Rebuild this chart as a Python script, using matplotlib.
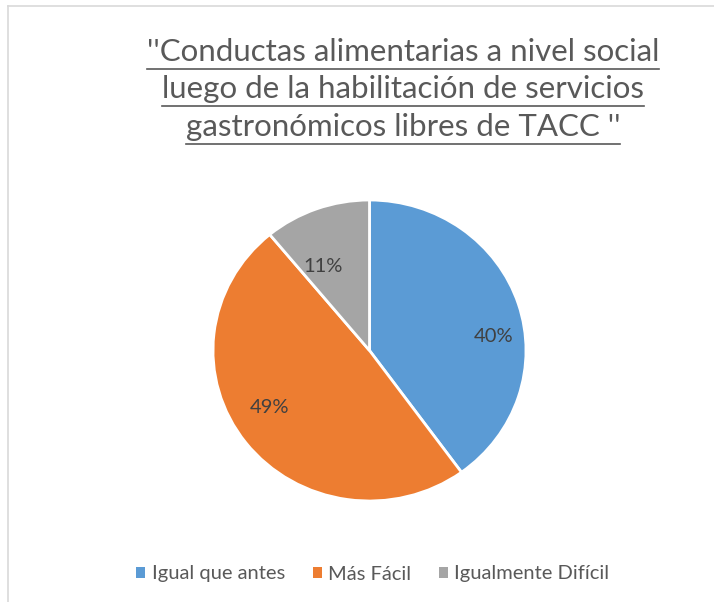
import matplotlib
matplotlib.use('Agg')
import matplotlib.pyplot as plt
from matplotlib.lines import Line2D
from matplotlib.patches import Patch

categorias = ['Igual que antes', 'Más Fácil', 'Igualmente Difícil']
porcentajes = [40, 49, 11]
colores = ['#5B9BD5', '#ED7D31', '#A5A5A5']
titulo = ["''Conductas alimentarias a nivel social",
          'luego de la habilitación de servicios',
          "gastronómicos libres de TACC ''"]

# posiciones de las etiquetas (en radios del pastel), estilo "ajuste perfecto" de Excel
pos_etiquetas = [(0.79, 0.09), (-0.64, -0.38), (-0.30, 0.56)]

plt.rcParams['font.family'] = ['Lato', 'DejaVu Sans']

W, H = 714, 602
fig = plt.figure(figsize=(W / 100, H / 100), dpi=100)

# marco gris del gráfico
fig.add_artist(Line2D([8 / W, 8 / W], [0, 1 - 6 / H], color='#D9D9D9', lw=1.2))
fig.add_artist(Line2D([8 / W, 1], [1 - 6 / H, 1 - 6 / H], color='#D9D9D9', lw=1.2))

# la captura está algo estirada en horizontal
cx, cy, rx, ry = 369.5, 350.5, 156.5, 150.5
ax = fig.add_axes([(cx - rx) / W, (H - cy - ry) / H, 2 * rx / W, 2 * ry / H])
ax.pie(porcentajes, colors=colores, startangle=90, counterclock=False,
       wedgeprops=dict(edgecolor='white', linewidth=2))
ax.set_xlim(-1.0, 1.0)
ax.set_ylim(-1.0, 1.0)
ax.set_aspect('auto')
ax.axis('off')

for (x, y), v in zip(pos_etiquetas, porcentajes):
    ax.text(x, y, '{}%'.format(v), ha='center', va='center',
            fontsize=14.5, color='#404040')

# titulo subrayado
textos = []
for linea, base in zip(titulo, [61, 98, 136]):
    t = fig.text(403 / W, 1 - base / H, linea, ha='center', va='baseline',
                 fontsize=22.5, color='#595959')
    textos.append((t, base))

fig.canvas.draw()
rend = fig.canvas.get_renderer()
for t, base in textos:
    bb = t.get_window_extent(rend)
    yl = 1 - (base + 8) / H
    fig.add_artist(Line2D([bb.x0 / W, bb.x1 / W], [yl, yl], color='#595959', lw=1.2))

handles = [Patch(facecolor=c, edgecolor='none') for c in colores]
fig.legend(handles, categorias, loc='center', bbox_to_anchor=(373 / W, 1 - 574 / H),
           ncol=3, frameon=False, fontsize=14.5, labelcolor='#595959',
           handlelength=0.45, handleheight=0.45, handletextpad=0.3, columnspacing=1.4)

fig.savefig('out.png', dpi=100)
